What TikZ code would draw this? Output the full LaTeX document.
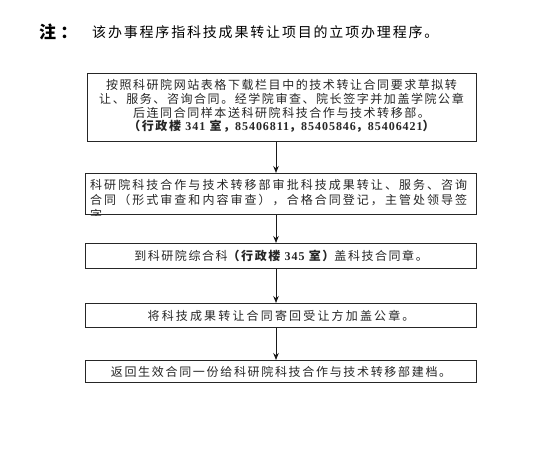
\documentclass[tikz,border=0pt]{standalone}
\usepackage{fontspec}
\setmainfont{Liberation Serif}
\newfontfamily\cjk{Noto Sans CJK SC}
\newfontfamily\numf{Liberation Serif}[LetterSpace=8]
\usetikzlibrary{arrows.meta}
\newcommand{\bnum}[1]{{\numf\bfseries #1}}
\begin{document}
\begin{tikzpicture}[x=1pt,y=-1pt,
  box/.style={draw=black!85, line width=1.1pt, anchor=north west, inner sep=0pt, align=center},
  txt/.style={inner sep=0pt, text=black!85},
  arr/.style={-{Stealth[length=7pt,width=5.5pt]}, line width=1pt, black!90}]
\useasboundingbox (0,0) rectangle (537,448);
\fill[white] (0,0) rectangle (537,448);
% heading
\node[txt, anchor=west, text=black, font=\cjk\bfseries\fontsize{17}{17}\selectfont\addfontfeature{LetterSpace=25}] (zhu) at (39,32) {注：};
\node[txt, anchor=west, text=black, font=\cjk\fontsize{14}{14}\selectfont\addfontfeature{LetterSpace=13}] (note) at (92,32) {该办事程序指科技成果转让项目的立项办理程序。};
% boxes
\node[box, minimum width=389pt, minimum height=68pt] (b1) at (87,73) {};
\node[txt, anchor=north, align=center, font=\cjk\fontsize{12}{14}\selectfont\addfontfeature{LetterSpace=13}] (t1) at (281.5,79) {按照科研院网站表格下载栏目中的技术转让合同要求草拟转\\让、服务、咨询合同。经学院审查、院长签字并加盖学院公章\\后连同合同样本送科研院科技合作与技术转移部。\\[-1pt]{\bfseries（行政楼 \bnum{341} 室，\bnum{85406811}，\bnum{85405846}，\bnum{85406421}）}};
\node[box, minimum width=391pt, minimum height=41pt] (b2) at (85,173) {};
\begin{scope}
\clip (b2.north west) rectangle (b2.south east);
\node[txt, anchor=north west, align=left, font=\cjk\fontsize{12}{15}\selectfont\addfontfeature{LetterSpace=17}] (t2) at (90,179) {科研院科技合作与技术转移部审批科技成果转让、服务、咨询\\合同（形式审查和内容审查），合格合同登记，主管处领导签\\字};
\end{scope}
\node[box, minimum width=391pt, minimum height=25pt, font=\cjk\fontsize{12}{14}\selectfont\addfontfeature{LetterSpace=13}, text=black!85] (b3) at (85,243) {到科研院综合科{\bfseries（行政楼 \bnum{345} 室）}盖科技合同章。};
\node[box, minimum width=391pt, minimum height=24pt, font=\cjk\fontsize{12}{14}\selectfont\addfontfeature{LetterSpace=18}, text=black!85] (b4) at (85,303) {将科技成果转让合同寄回受让方加盖公章。};
\node[box, minimum width=391pt, minimum height=22pt, font=\cjk\fontsize{12}{14}\selectfont\addfontfeature{LetterSpace=14}, text=black!85] (b5) at (85,360) {返回生效合同一份给科研院科技合作与技术转移部建档。};
% arrows
\coordinate (ax) at (276,0);
\draw[arr] (b1.south -| ax) -- (b2.north -| ax);
\draw[arr] (b2.south -| ax) -- (b3.north -| ax);
\draw[arr] (b3.south -| ax) -- (b4.north -| ax);
\draw[arr] (b4.south -| ax) -- (b5.north -| ax);
\end{tikzpicture}
\end{document}
